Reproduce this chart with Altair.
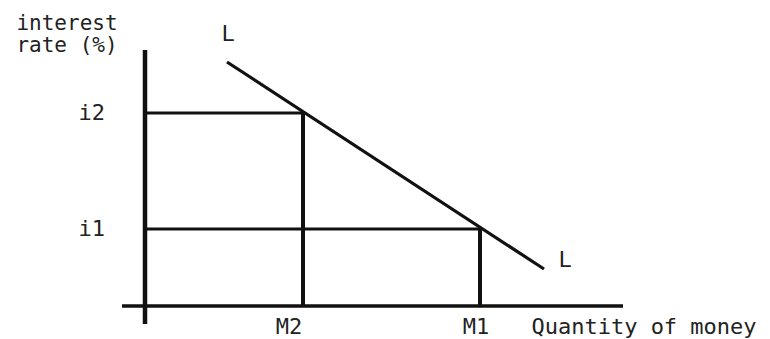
import altair as alt
import pandas as pd

# ---- values (units: offset from the axes' crossing) ----
quantity_axis = [-23, 478]      # extent of the horizontal (quantity) axis
rate_axis = [-18, 256]          # extent of the vertical (interest-rate) axis

money_labels = ["M2", "M1"]
money_values = [158, 335]
rate_labels = ["i2", "i1"]
rate_values = [193, 77]

curve_x = [82, 399]             # liquidity-preference line L
curve_y = [244, 37]
curve_label = "L"

y_title = "interest\nrate (%)"
x_title = "Quantity of money"

X_DOMAIN = [-137, 617]
Y_DOMAIN = [-33, 298]
FONT = "DejaVu Sans Mono"
FS = 22
INK = "#111111"
TXT = "#222222"

xs = alt.Scale(domain=X_DOMAIN, nice=False, zero=False)
ys = alt.Scale(domain=Y_DOMAIN, nice=False, zero=False)


def X(f):
    return alt.X(f, type="quantitative", scale=xs, axis=None)


def Y(f):
    return alt.Y(f, type="quantitative", scale=ys, axis=None)


# axes
h_axis_df = pd.DataFrame({"x": [quantity_axis[0]], "x2": [quantity_axis[1]], "y": [0]})
v_axis_df = pd.DataFrame({"x": [0], "y": [rate_axis[0]], "y2": [rate_axis[1]]})
h_axis = alt.Chart(h_axis_df).mark_rule(color=INK, strokeWidth=3.5).encode(
    x=X("x"), x2="x2", y=Y("y"))
v_axis = alt.Chart(v_axis_df).mark_rule(color=INK, strokeWidth=4.5).encode(
    x=X("x"), y=Y("y"), y2="y2")

# guide lines
guide_df = pd.DataFrame({"m": money_values, "i": rate_values,
                         "zero": [0] * len(money_values),
                         "mlab": money_labels, "ilab": rate_labels})
h_guides = alt.Chart(guide_df).mark_rule(color=INK, strokeWidth=3).encode(
    x=X("zero"), x2="m", y=Y("i"))
v_guides = alt.Chart(guide_df).mark_rule(color=INK, strokeWidth=4).encode(
    x=X("m"), y=Y("zero"), y2="i")

# L curve
curve_df = pd.DataFrame({"x": curve_x, "y": curve_y})
curve = alt.Chart(curve_df).mark_line(color=INK, strokeWidth=3.2).encode(
    x=X("x"), y=Y("y"))

txt = dict(font=FONT, fontSize=FS, color=TXT)

rate_text = alt.Chart(guide_df).mark_text(
    align="right", baseline="middle", dx=-40, **txt).encode(
    x=X("zero"), y=Y("i"), text="ilab:N")

m2_text = alt.Chart(guide_df).transform_filter(alt.datum.mlab == money_labels[0]).mark_text(
    align="center", baseline="alphabetic", dx=-14, dy=28, **txt).encode(
    x=X("m"), y=Y("zero"), text="mlab:N")
m1_text = alt.Chart(guide_df).transform_filter(alt.datum.mlab == money_labels[1]).mark_text(
    align="center", baseline="alphabetic", dx=-4, dy=28, **txt).encode(
    x=X("m"), y=Y("zero"), text="mlab:N")

l_top_df = pd.DataFrame({"x": [curve_x[0]], "y": [curve_y[0]], "t": [curve_label]})
l_end_df = pd.DataFrame({"x": [curve_x[1]], "y": [curve_y[1]], "t": [curve_label]})
l_top = alt.Chart(l_top_df).mark_text(
    align="center", baseline="alphabetic", dx=1, dy=-21, **txt).encode(
    x=X("x"), y=Y("y"), text="t:N")
l_end = alt.Chart(l_end_df).mark_text(
    align="center", baseline="alphabetic", dx=21, dy=-2, **txt).encode(
    x=X("x"), y=Y("y"), text="t:N")

yt_df = pd.DataFrame({"x": [0], "y": [rate_axis[1]], "t": [y_title]})
y_title_mark = alt.Chart(yt_df).mark_text(
    align="center", baseline="alphabetic", dx=-78, dy=-20,
    lineBreak="\n", lineHeight=22, font=FONT, fontSize=21, color=TXT).encode(
    x=X("x"), y=Y("y"), text="t:N")

xt_df = pd.DataFrame({"x": [quantity_axis[1]], "y": [0], "t": [x_title]})
x_title_mark = alt.Chart(xt_df).mark_text(
    align="center", baseline="alphabetic", dx=21, dy=28, **txt).encode(
    x=X("x"), y=Y("y"), text="t:N")

chart = alt.layer(
    h_axis, v_axis, h_guides, v_guides, curve,
    rate_text, m2_text, m1_text, l_top, l_end, y_title_mark, x_title_mark,
).properties(
    width=754, height=331, padding=0, autosize=alt.AutoSizeParams(type="none"),
    background="white",
).configure_view(stroke=None)

chart.save("out.html", embed_options={"renderer": "svg", "actions": False})
